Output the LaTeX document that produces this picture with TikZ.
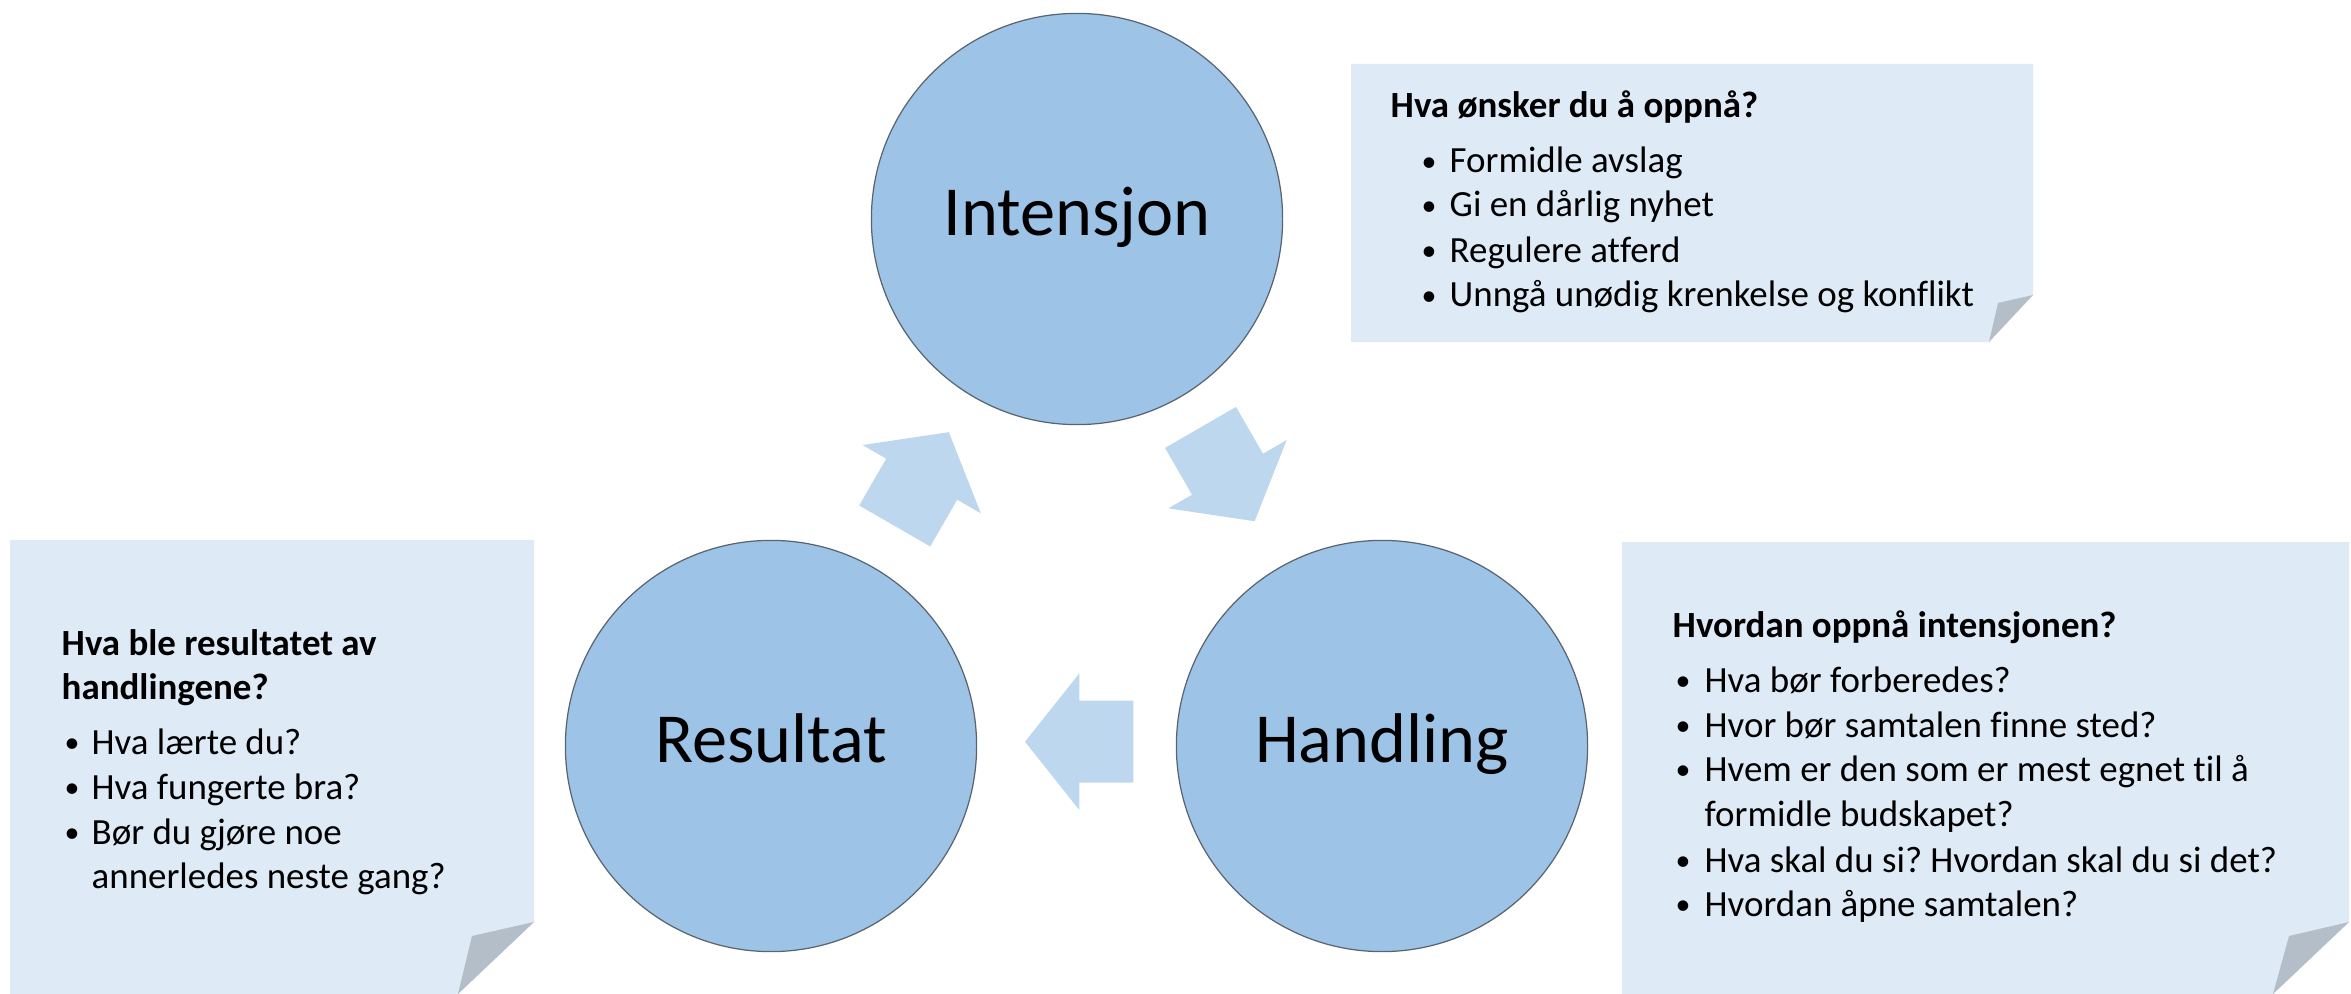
\documentclass[tikz,border=0pt]{standalone}
\usepackage{fontspec}
\setmainfont[Ligatures=NoCommon]{Carlito}
\frenchspacing
\definecolor{circfill}{HTML}{9DC3E6}
\definecolor{circline}{HTML}{5A6470}
\definecolor{arrowfill}{HTML}{BDD7EE}
\definecolor{notefill}{HTML}{DEEAF6}
\definecolor{foldfill}{HTML}{B4BEC9}
\newcommand{\mybul}{\raisebox{0.5pt}{\fontsize{8.5}{10}\selectfont •}}
\begin{document}
\begin{tikzpicture}[x=0.01cm,y=-0.01cm,
  circ/.style={circle, minimum size=4.11cm, inner sep=0pt, fill=circfill, draw=circline, line width=0.35pt},
  lbl/.style={anchor=base, inner sep=0pt, font=\fontsize{20}{24}\selectfont},
  txt/.style={anchor=base west, inner sep=0pt, font=\fontsize{10.5}{12.7}\selectfont},
  ttl/.style={anchor=base west, inner sep=0pt, font=\fontsize{10.5}{12.7}\selectfont\bfseries},
  blockarrow/.style={fill=arrowfill, draw=none},
  note/.style={fill=notefill, draw=none},
  fold/.style={fill=foldfill, draw=none},
  barrow/.pic={\fill[blockarrow] (-54,-41) -- (0,-41) -- (0,-68.3) -- (54.3,0) -- (0,68.3) -- (0,41) -- (-54,41) -- cycle;}]
\useasboundingbox (0,0) rectangle (2351,994);

% notes
\fill[note] (1351,64) -- (2033,64) -- (2033,295) -- (1989,342) -- (1351,342) -- cycle;
\fill[fold] (2033,295) -- (1998,303) -- (1989,342) -- cycle;
\fill[note] (10,540) -- (534,540) -- (534,922) -- (458,994) -- (10,994) -- cycle;
\fill[fold] (534,922) -- (472,936) -- (458,994) -- cycle;
\fill[note] (1622,542) -- (2349,542) -- (2349,922) -- (2273,994) -- (1622,994) -- cycle;
\fill[fold] (2349,922) -- (2289,936) -- (2273,994) -- cycle;

% circles
\node[circ] (int) at (1077,219) {};
\node[circ] (han) at (1382,746) {};
\node[circ] (res) at (771,746) {};
\node[lbl] (intl) at ([yshift=-0.165cm]int.center) {Intensjon};
\node[lbl] (hanl) at ([yshift=-0.165cm]han.center) {Handling};
\node[lbl] (resl) at ([yshift=-0.165cm]res.center) {Resultat};

% block arrows
\pic[rotate=60] (a1) at (921.7,479.2) {barrow};
\pic[rotate=-60] (a2) at (1227.5,474.2) {barrow};
\pic[rotate=180] (a3) at (1079.3,741.7) {barrow};

% top note text
\node[ttl] (t0) at (1390,118) {Hva ønsker du å oppnå?};
\node[txt] (tb1) at (1421,173) {\mybul};
\node[txt] (t1) at (1449,173) {Formidle avslag};
\node[txt] (tb2) at (1421,217) {\mybul};
\node[txt] (t2) at (1449,217) {Gi en dårlig nyhet};
\node[txt] (tb3) at (1421,262) {\mybul};
\node[txt] (t3) at (1449,262) {Regulere atferd};
\node[txt] (tb4) at (1421,307) {\mybul};
\node[txt] (t4) at (1449,307) {Unngå unødig krenkelse og konflikt};

% right note text
\node[ttl] (r0) at (1672,637) {Hvordan oppnå intensjonen?};
\node[txt] (rb1) at (1675,692) {\mybul};
\node[txt] (r1) at (1704,692) {Hva bør forberedes?};
\node[txt] (rb2) at (1675,737) {\mybul};
\node[txt] (r2) at (1704,737) {Hvor bør samtalen finne sted?};
\node[txt] (rb3) at (1675,781) {\mybul};
\node[txt] (r3) at (1704,781) {Hvem er den som er mest egnet til å};
\node[txt] (r3b) at (1704,826) {formidle budskapet?};
\node[txt] (rb4) at (1675,872) {\mybul};
\node[txt] (r4) at (1704,872) {Hva skal du si? Hvordan skal du si det?};
\node[txt] (rb5) at (1675,916) {\mybul};
\node[txt] (r5) at (1704,916) {Hvordan åpne samtalen?};

% left note text
\node[ttl] (l0) at (61,655) {Hva ble resultatet av};
\node[ttl] (l0b) at (61,699) {handlingene?};
\node[txt] (lb1) at (64,754) {\mybul};
\node[txt] (l1) at (91,754) {Hva lærte du?};
\node[txt] (lb2) at (64,799) {\mybul};
\node[txt] (l2) at (91,799) {Hva fungerte bra?};
\node[txt] (lb3) at (64,844) {\mybul};
\node[txt] (l3) at (91,844) {Bør du gjøre noe};
\node[txt] (l3b) at (91,888) {annerledes neste gang?};
\end{tikzpicture}
\end{document}
